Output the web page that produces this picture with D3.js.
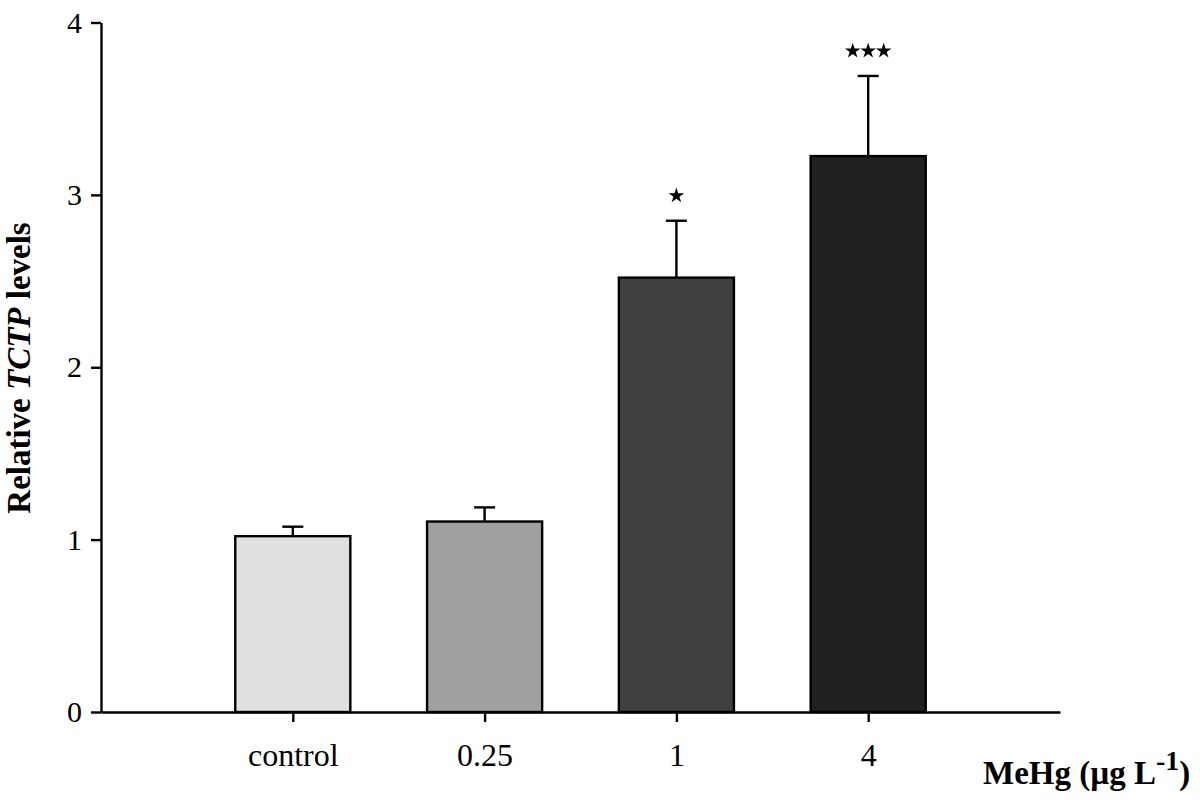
<!DOCTYPE html>
<html lang="en">
	<head>
		<meta charset="utf-8">
		<title>Relative TCTP levels</title>
		<script src="https://d3js.org/d3.v7.min.js"></script>
		<style type="text/css">
			body { margin: 0; background: #fff; }
			text { font-family: "Liberation Serif", "Times New Roman", serif; fill: #000; }
		</style>
	</head>
	<body>
		<script type="text/javascript">
			//Data
			let categories = ["control", "0.25", "1", "4"];
			let means = [1.02, 1.105, 2.52, 3.225];
			let errors = [0.055, 0.082, 0.33, 0.465];
			let stars = ["", "", "*", "***"];
			let fills = ["#e0e0e0", "#a0a0a0", "#404040", "#202020"];
			let yTicks = [0, 1, 2, 3, 4];

			let w = 1200;
			let h = 800;

			let svg = d3.select("body")
						.append("svg")
						.attr("width", w)
						.attr("height", h);

			//Scales
			let xScale = d3.scalePoint()
							.domain(categories)
							.range([101, 1060])
							.padding(1);
			let yScale = d3.scaleLinear()
							.domain([0, 4])
							.range([712, 22.5]);
			let barW = xScale.step() * 0.6;

			//Bars
			svg.append("g")
				.selectAll("rect")
				.data(categories)
				.enter()
				.append("rect")
				.attr("x", function(d) { return xScale(d) - barW / 2; })
				.attr("y", function(d, i) { return yScale(means[i]); })
				.attr("width", barW)
				.attr("height", function(d, i) { return yScale(0) - yScale(means[i]); })
				.attr("fill", function(d, i) { return fills[i]; })
				.attr("stroke", "#000")
				.attr("stroke-width", 2.4);

			//Upper error bars
			let err = svg.append("g")
						.attr("stroke", "#000")
						.attr("stroke-width", 2.4);
			categories.forEach(function(d, i) {
				let cx = xScale(d);
				let top = yScale(means[i] + errors[i]);
				err.append("line")
					.attr("x1", cx).attr("x2", cx)
					.attr("y1", yScale(means[i])).attr("y2", top);
				err.append("line")
					.attr("x1", cx - 10.5).attr("x2", cx + 10.5)
					.attr("y1", top).attr("y2", top);
			});

			//Significance stars
			let starShape = d3.symbol().type(d3.symbolStar).size(75);
			categories.forEach(function(d, i) {
				let n = stars[i].length;
				for (let k = 0; k < n; k++) {
					let sx = xScale(d) + (k - (n - 1) / 2) * 15.5;
					let sy = yScale(means[i] + errors[i]) - 25;
					svg.append("path")
						.attr("d", starShape())
						.attr("transform", "translate(" + sx + "," + sy + ")")
						.attr("fill", "#000");
				}
			});

			//Axes
			let yAxis = d3.axisLeft(yScale)
							.tickValues(yTicks)
							.tickFormat(d3.format("d"))
							.tickSize(10)
							.tickSizeOuter(0)
							.tickPadding(9);
			let xAxis = d3.axisBottom(xScale)
							.tickSize(10)
							.tickSizeOuter(0)
							.tickPadding(21);

			let gx = svg.append("g")
				.attr("transform", "translate(0," + yScale(0) + ")")
				.call(xAxis);
			gx.selectAll("text").style("font-size", "32px");

			let gy = svg.append("g")
				.attr("transform", "translate(101,0)")
				.call(yAxis);
			gy.selectAll("text").style("font-size", "30px");

			svg.selectAll(".domain, .tick line")
				.attr("stroke", "#000")
				.attr("stroke-width", 2.4);

			//Axis titles
			let yTitle = svg.append("text")
				.attr("transform", "translate(30,368) rotate(-90)")
				.attr("text-anchor", "middle")
				.style("font-size", "33px")
				.style("font-weight", "bold");
			yTitle.append("tspan").text("Relative ");
			yTitle.append("tspan").style("font-style", "italic").text("TCTP");
			yTitle.append("tspan").text(" levels");

			let xTitle = svg.append("text")
				.attr("x", 983)
				.attr("y", 784)
				.style("font-size", "33px")
				.style("font-weight", "bold");
			xTitle.append("tspan").text("MeHg (\u00b5g L");
			xTitle.append("tspan").attr("dy", -14).style("font-size", "28px").text("-1");
			xTitle.append("tspan").attr("dy", 14).text(")");
		</script>
	</body>
</html>
